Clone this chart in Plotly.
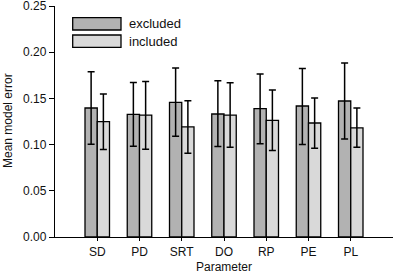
import plotly.graph_objects as go

categories = ["SD", "PD", "SRT", "DO", "RP", "PE", "PL"]
excluded = [0.1396, 0.1327, 0.1457, 0.1331, 0.1390, 0.1418, 0.1472]
excluded_err_up = [0.0392, 0.0345, 0.0371, 0.0360, 0.0373, 0.0405, 0.0410]
excluded_err_down = [0.0393, 0.0345, 0.0367, 0.0352, 0.0382, 0.0418, 0.0412]
included = [0.1248, 0.1320, 0.1191, 0.1320, 0.1262, 0.1234, 0.1180]
included_err_up = [0.0299, 0.0363, 0.0284, 0.0350, 0.0328, 0.0270, 0.0216]
included_err_down = [0.0302, 0.0370, 0.0285, 0.0350, 0.0326, 0.0274, 0.0210]
yticks = [0.00, 0.05, 0.10, 0.15, 0.20, 0.25]

C_EX = "#b2b2b2"
C_IN = "#d9d9d9"

fig = go.Figure()
fig.add_trace(go.Bar(
    x=categories, y=excluded, name="excluded",
    marker=dict(color=C_EX, line=dict(color="black", width=1.3)),
    error_y=dict(type="data", symmetric=False, array=excluded_err_up,
                 arrayminus=excluded_err_down, color="black", thickness=1.5, width=3.5),
    showlegend=False,
))
fig.add_trace(go.Bar(
    x=categories, y=included, name="included",
    marker=dict(color=C_IN, line=dict(color="black", width=1.3)),
    error_y=dict(type="data", symmetric=False, array=included_err_up,
                 arrayminus=included_err_down, color="black", thickness=1.5, width=3.5),
    showlegend=False,
))

W, H = 394, 275
ml, mr, mt, mb = 55, 1, 6, 38
pw = W - ml - mr
ph = H - mt - mb

def px2paper(x, y):
    return (x - ml) / pw, (H - mb - y) / ph

shapes = []
annotations = []
for (label, color, y0, y1) in [("excluded", C_EX, 17.7, 30.0), ("included", C_IN, 35.0, 47.3)]:
    xa, ya = px2paper(72.7, y1)
    xb, yb = px2paper(121.0, y0)
    shapes.append(dict(type="rect", xref="paper", yref="paper", x0=xa, y0=ya, x1=xb, y1=yb,
                       fillcolor=color, line=dict(color="black", width=1.3)))
    tx, ty = px2paper(127, (y0 + y1) / 2)
    annotations.append(dict(xref="paper", yref="paper", x=tx, y=ty, text=label, showarrow=False,
                            xanchor="left", yanchor="middle",
                            font=dict(size=13, color="#111111")))

# axis titles
tx, ty = px2paper(224, 267)
annotations.append(dict(xref="paper", yref="paper", x=tx, y=ty, text="Parameter", showarrow=False,
                        xanchor="center", yanchor="middle", font=dict(size=12, color="#111111")))
tx, ty = px2paper(8, 121)
annotations.append(dict(xref="paper", yref="paper", x=tx, y=ty, text="Mean model error", showarrow=False,
                        textangle=-90, xanchor="center", yanchor="middle",
                        font=dict(size=12, color="#111111")))

fig.update_layout(
    width=W, height=H,
    margin=dict(l=ml, r=mr, t=mt, b=mb, autoexpand=False),
    plot_bgcolor="white", paper_bgcolor="white",
    barmode="group", bargap=0.42, bargroupgap=0,
    font=dict(family="Liberation Sans, Arial, sans-serif", size=12, color="#111111"),
    shapes=shapes, annotations=annotations,
    xaxis=dict(
        range=[-1, 7], showline=True, linecolor="black", linewidth=1.3,
        ticks="outside", ticklen=3, tickwidth=1.3, tickcolor="black",
        showgrid=False, zeroline=False, automargin=False,
        tickfont=dict(size=12), ticklabeloverflow="allow",
    ),
    yaxis=dict(
        range=[0, 0.25], tickvals=yticks, ticktext=[f"{v:.2f}" for v in yticks],
        showline=True, linecolor="black", linewidth=1.3,
        ticks="outside", ticklen=5, tickwidth=1.3, tickcolor="black",
        showgrid=False, zeroline=False, automargin=False,
        tickfont=dict(size=12), ticklabeloverflow="allow",
    ),
)

fig.write_html("out.html",
               config={"displayModeBar": False},
               post_script="document.body.style.margin='0';document.body.style.padding='0';")
